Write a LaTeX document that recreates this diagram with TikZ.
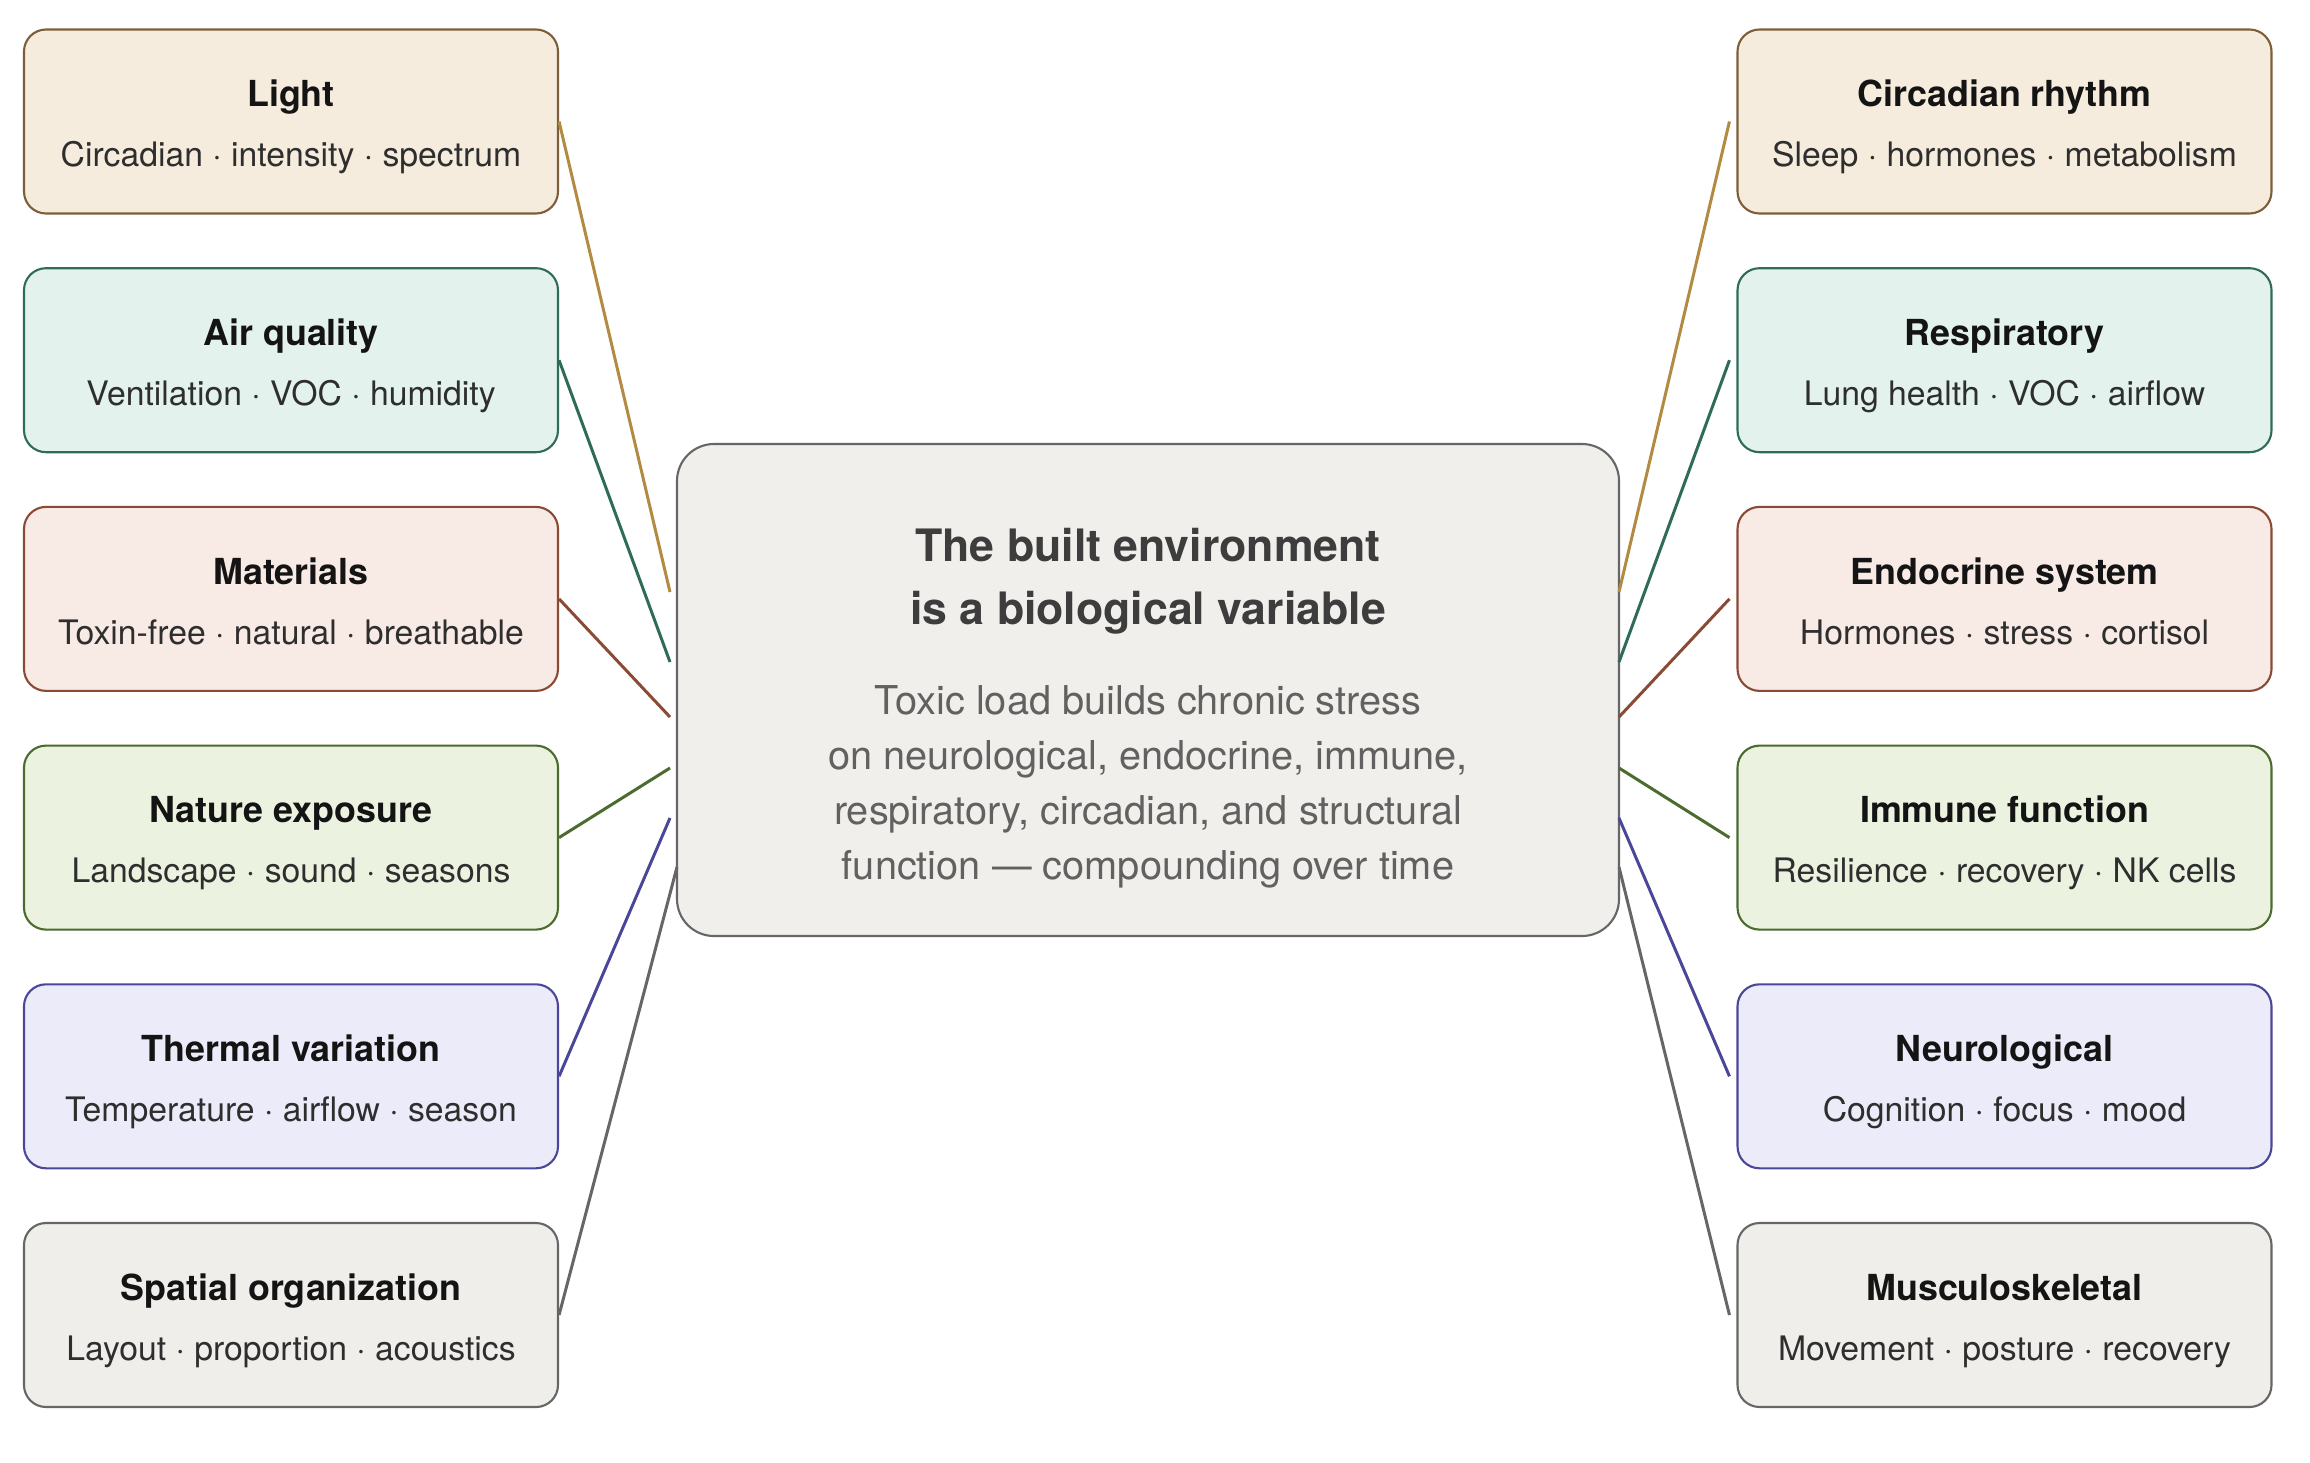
\documentclass[tikz,border=0pt]{standalone}
\usepackage{fontspec}
\setmainfont{TeX Gyre Heros}
\definecolor{lightFill}{HTML}{F6ECDD}
\definecolor{lightLine}{HTML}{7E5E3A}
\definecolor{lightLink}{HTML}{B38A42}
\definecolor{airFill}{HTML}{E3F2EC}
\definecolor{airLine}{HTML}{2F6B5B}
\definecolor{matFill}{HTML}{F8EAE5}
\definecolor{matLine}{HTML}{8A4A35}
\definecolor{natFill}{HTML}{EBF3E0}
\definecolor{natLine}{HTML}{4B6B2F}
\definecolor{thermFill}{HTML}{ECEBFA}
\definecolor{thermLine}{HTML}{4A4799}
\definecolor{spaceFill}{HTML}{EFEEEB}
\definecolor{spaceLine}{HTML}{666666}
\definecolor{coreFill}{HTML}{F0EFEB}
\colorlet{headColor}{black!92}
\colorlet{subColor}{black!82}
\colorlet{coreHead}{black!76}
\colorlet{coreText}{black!62}
\tikzset{
  box/.style={draw, rounded corners=2.2mm, line width=0.6pt, minimum width=53.4mm, minimum height=18.4mm, inner sep=0pt},
  head/.style={anchor=base, inner sep=0pt, text=headColor, font=\fontsize{10.2}{12}\selectfont\bfseries},
  sub/.style={anchor=base, inner sep=0pt, text=subColor, font=\fontsize{9.6}{12}\selectfont},
  link/.style={line width=0.85pt},
}

\begin{document}
\begin{tikzpicture}[x=0.1mm, y=-0.1mm]
\fill[white] (0,0) rectangle (2310,1462);
\useasboundingbox (0,0) rectangle (2310,1462);

% centre
\node[draw=spaceLine, fill=coreFill, line width=0.6pt, rounded corners=3.7mm, minimum width=94.2mm, minimum height=49.2mm] (core) at (1148,690) {};
\node[anchor=base, align=center, text=coreHead, font=\fontsize{12.7}{17.9}\selectfont\bfseries] (coreT) at (1148,624) {The built environment\\is a biological variable};
\node[anchor=base, align=center, text=coreText, font=\fontsize{11.3}{15.65}\selectfont] (coreB) at (1148,879) {Toxic load builds chronic stress\\on neurological, endocrine, immune,\\respiratory, circadian, and structural\\function — compounding over time};

\coordinate (in1) at (670,592);
\coordinate (in2) at (670,662);
\coordinate (in3) at (670,717);
\coordinate (in4) at (670,768);
\coordinate (in5) at (670,818);
\coordinate (in6) at (677,867);
\coordinate (out1) at (1619,592);
\coordinate (out2) at (1619,662);
\coordinate (out3) at (1619,717);
\coordinate (out4) at (1619,768);
\coordinate (out5) at (1619,818);
\coordinate (out6) at (1619,867);

% left column
\node[box, draw=lightLine, fill=lightFill] (light) at (291,121.5) {};
\node[head] (lightT) at ([yshift=1.48mm]light.center) {Light};
\node[sub] (lightS) at ([yshift=-4.52mm]light.center) {Circadian · intensity · spectrum};

\node[box, draw=airLine, fill=airFill] (air) at (291,360.2) {};
\node[head] (airT) at ([yshift=1.48mm]air.center) {Air quality};
\node[sub] (airS) at ([yshift=-4.52mm]air.center) {Ventilation · VOC · humidity};

\node[box, draw=matLine, fill=matFill] (mat) at (291,598.9) {};
\node[head] (matT) at ([yshift=1.48mm]mat.center) {Materials};
\node[sub] (matS) at ([yshift=-4.52mm]mat.center) {Toxin-free · natural · breathable};

\node[box, draw=natLine, fill=natFill] (nat) at (291,837.6) {};
\node[head] (natT) at ([yshift=1.48mm]nat.center) {Nature exposure};
\node[sub] (natS) at ([yshift=-4.52mm]nat.center) {Landscape · sound · seasons};

\node[box, draw=thermLine, fill=thermFill] (therm) at (291,1076.3) {};
\node[head] (thermT) at ([yshift=1.48mm]therm.center) {Thermal variation};
\node[sub] (thermS) at ([yshift=-4.52mm]therm.center) {Temperature · airflow · season};

\node[box, draw=spaceLine, fill=spaceFill] (space) at (291,1315) {};
\node[head] (spaceT) at ([yshift=1.48mm]space.center) {Spatial organization};
\node[sub] (spaceS) at ([yshift=-4.52mm]space.center) {Layout · proportion · acoustics};

% right column
\node[box, draw=lightLine, fill=lightFill] (rhythm) at (2004.5,121.5) {};
\node[head] (rhythmT) at ([yshift=1.48mm]rhythm.center) {Circadian rhythm};
\node[sub] (rhythmS) at ([yshift=-4.52mm]rhythm.center) {Sleep · hormones · metabolism};

\node[box, draw=airLine, fill=airFill] (resp) at (2004.5,360.2) {};
\node[head] (respT) at ([yshift=1.48mm]resp.center) {Respiratory};
\node[sub] (respS) at ([yshift=-4.52mm]resp.center) {Lung health · VOC · airflow};

\node[box, draw=matLine, fill=matFill] (endo) at (2004.5,598.9) {};
\node[head] (endoT) at ([yshift=1.48mm]endo.center) {Endocrine system};
\node[sub] (endoS) at ([yshift=-4.52mm]endo.center) {Hormones · stress · cortisol};

\node[box, draw=natLine, fill=natFill] (immune) at (2004.5,837.6) {};
\node[head] (immuneT) at ([yshift=1.48mm]immune.center) {Immune function};
\node[sub] (immuneS) at ([yshift=-4.52mm]immune.center) {Resilience · recovery · NK cells};

\node[box, draw=thermLine, fill=thermFill] (neuro) at (2004.5,1076.3) {};
\node[head] (neuroT) at ([yshift=1.48mm]neuro.center) {Neurological};
\node[sub] (neuroS) at ([yshift=-4.52mm]neuro.center) {Cognition · focus · mood};

\node[box, draw=spaceLine, fill=spaceFill] (musc) at (2004.5,1315) {};
\node[head] (muscT) at ([yshift=1.48mm]musc.center) {Musculoskeletal};
\node[sub] (muscS) at ([yshift=-4.52mm]musc.center) {Movement · posture · recovery};

% links
\draw[link, lightLink] (light.east) -- (in1);
\draw[link, airLine] (air.east) -- (in2);
\draw[link, matLine] (mat.east) -- (in3);
\draw[link, natLine] (nat.east) -- (in4);
\draw[link, thermLine] (therm.east) -- (in5);
\draw[link, spaceLine] (space.east) -- (in6);
\draw[link, lightLink] (out1) -- ([xshift=-0.7mm]rhythm.west);
\draw[link, airLine] (out2) -- ([xshift=-0.7mm]resp.west);
\draw[link, matLine] (out3) -- ([xshift=-0.7mm]endo.west);
\draw[link, natLine] (out4) -- ([xshift=-0.7mm]immune.west);
\draw[link, thermLine] (out5) -- ([xshift=-0.7mm]neuro.west);
\draw[link, spaceLine] (out6) -- ([xshift=-0.7mm]musc.west);
\end{tikzpicture}
\end{document}
